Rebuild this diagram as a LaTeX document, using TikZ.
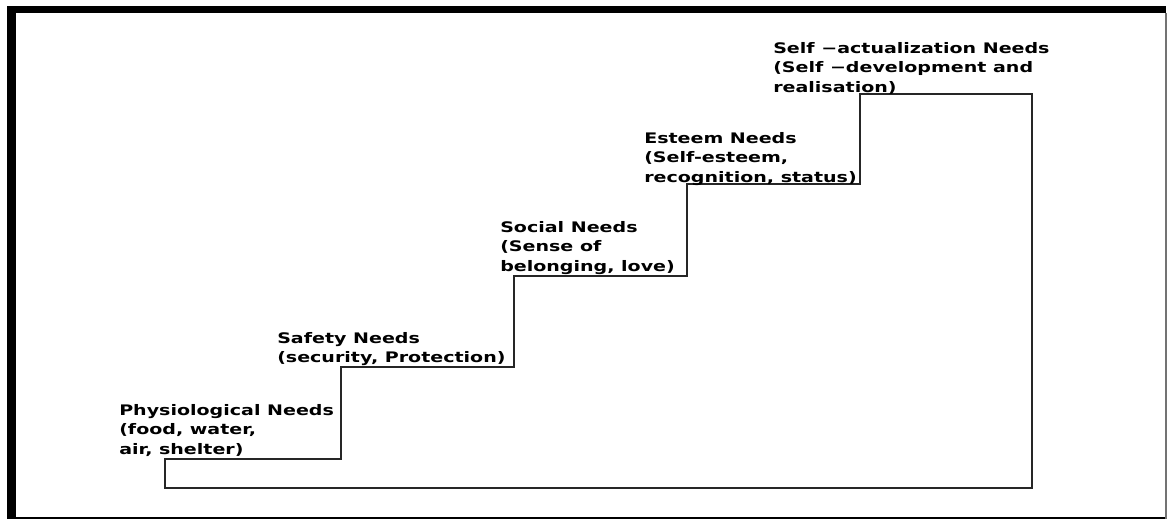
\documentclass[tikz,border=0pt]{standalone}
\usepackage{fontspec}
\newfontfamily\lblfont{DejaVu Sans}[FakeStretch=1.31]
\begin{document}
\begin{tikzpicture}[x=0.75pt,y=-0.75pt,
  lbl/.style={anchor=base west,inner sep=0pt,align=left,
    font=\lblfont\bfseries\fontsize{10.9pt}{14.6pt}\selectfont},
  stair/.style={draw=black!85,line width=1.1pt,line join=miter}]
\useasboundingbox (0,0) rectangle (1167,519);
\fill[white] (0,0) rectangle (1167,519);
% frame
\fill[black] (7,6) rectangle (1166,12.7);
\fill[black] (7,6) rectangle (16,519);
\fill[black] (16,516.5) rectangle (1166,519);
\fill[black!55] (1165.3,12.7) rectangle (1167,519);
% staircase
\coordinate (p1) at (165,459);
\coordinate (p2) at (341,459);
\coordinate (p3) at (341,367);
\coordinate (p4) at (514,367);
\coordinate (p5) at (514,276);
\coordinate (p6) at (687,276);
\coordinate (p7) at (687,184);
\coordinate (p8) at (860,184);
\coordinate (p9) at (860,94);
\coordinate (p10) at (1032,94);
\coordinate (p11) at (1032,488);
\coordinate (p12) at (165,488);
\draw[stair] (p1) -- (p2) -- (p3) -- (p4) -- (p5) -- (p6) -- (p7) -- (p8) -- (p9) -- (p10) -- (p11) -- (p12) -- cycle;
% labels (anchor = baseline of last line)
\node[lbl] (phys) at (119,454) {Physiological Needs\\(food, water,\\air, shelter)};
\node[lbl] (safe) at (277,362.5) {Safety Needs\\(security, Protection)};
\node[lbl] (soc) at (500,271) {Social Needs\\(Sense of\\belonging, love)};
\node[lbl] (est) at (644,182) {Esteem Needs\\(Self-esteem,\\recognition, status)};
\node[lbl] (self) at (773,92) {Self −actualization Needs\\(Self −development and\\realisation)};
\end{tikzpicture}
\end{document}
